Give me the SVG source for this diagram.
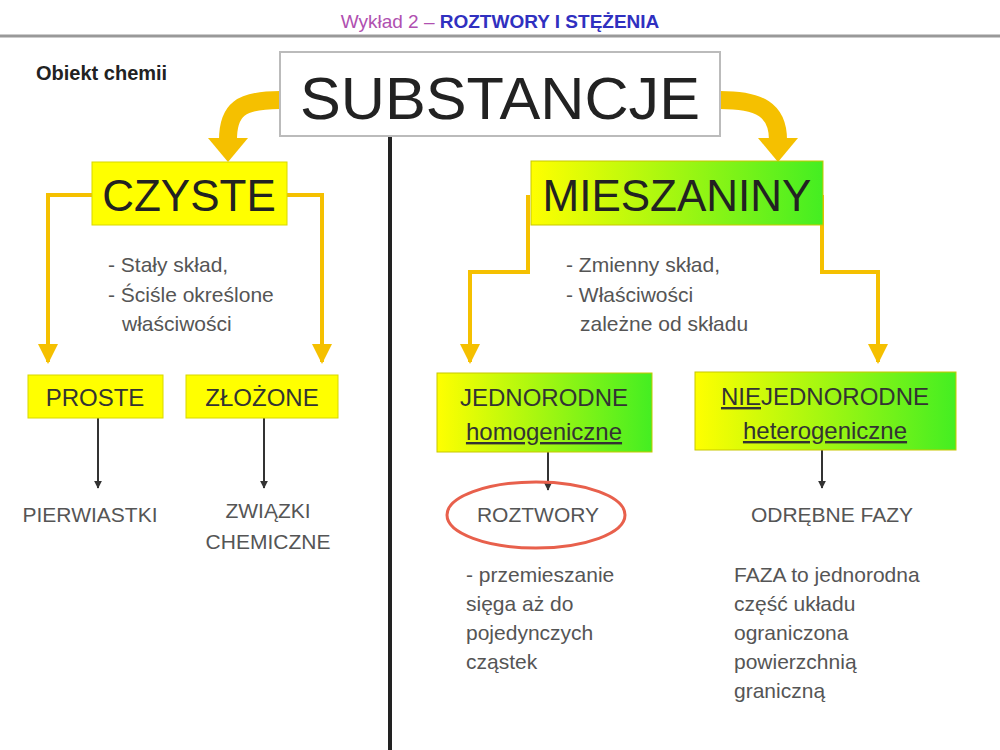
<svg xmlns="http://www.w3.org/2000/svg" width="1000" height="750" viewBox="0 0 1000 750">
<defs>
<linearGradient id="yg" x1="0" x2="1" y1="0" y2="0"><stop offset="0" stop-color="#ffff00"/><stop offset="1" stop-color="#44ee22"/></linearGradient>
<marker id="ya" viewBox="0 0 10 10" refX="9" refY="5" markerWidth="5" markerHeight="5" orient="auto"><path d="M0,0L10,5L0,10z" fill="#f5c000"/></marker>
<marker id="ka" viewBox="0 0 10 10" refX="9" refY="5" markerWidth="4" markerHeight="4" orient="auto"><path d="M0,0L10,5L0,10z" fill="#333"/></marker>
<style>
text{font-family:"Liberation Sans",Arial,sans-serif;fill:#222}
.y{fill:#ffff00;stroke:#d8d800;stroke-width:1}
.g{fill:url(#yg);stroke:#c8c800;stroke-width:1}
.yl{fill:none;stroke:#f5c000;stroke-width:4}
.k{stroke:#333;stroke-width:2;marker-end:url(#ka)}
.t{font-size:21px;fill:#555}
.b{font-size:24px;fill:#333}
</style>
</defs>
<rect width="1000" height="750" fill="#fff"/>
<text x="500" y="28" text-anchor="middle" font-size="19"><tspan fill="#b050b0">Wykład 2 – </tspan><tspan fill="#3030c0" font-weight="bold">ROZTWORY I STĘŻENIA</tspan></text>
<line x1="0" y1="36" x2="1000" y2="36" stroke="#999" stroke-width="3"/>
<text x="36" y="80" font-size="20" font-weight="bold" fill="#555">Obiekt chemii</text>
<g id="connectors">
<line x1="390" y1="130" x2="390" y2="750" stroke="#222" stroke-width="4"/>
<path d="M280,100 C240,100 228,110 228,140" fill="none" stroke="#f5c000" stroke-width="18"/>
<path d="M208,138 L248,138 L228,162z" fill="#f5c000"/>
<path d="M720,100 C760,100 778,110 778,140" fill="none" stroke="#f5c000" stroke-width="18"/>
<path d="M758,138 L798,138 L778,162z" fill="#f5c000"/>
<path class="yl" d="M92,195 H48 V362" marker-end="url(#ya)"/>
<path class="yl" d="M287,195 H322 V362" marker-end="url(#ya)"/>
<path class="yl" d="M528,195 V272 H470 V362" marker-end="url(#ya)"/>
<path class="yl" d="M822,195 V272 H878 V362" marker-end="url(#ya)"/>
<line class="k" x1="98" y1="418" x2="98" y2="488"/>
<line class="k" x1="264" y1="418" x2="264" y2="488"/>
<line class="k" x1="548" y1="452" x2="548" y2="490"/>
<line class="k" x1="822" y1="450" x2="822" y2="488"/>
</g>
<g id="substancje"><rect x="280" y="52" width="440" height="84" fill="#fff" stroke="#bbb" stroke-width="2"/><text x="500" y="119" text-anchor="middle" font-size="60" fill="#333" textLength="400" lengthAdjust="spacingAndGlyphs">SUBSTANCJE</text></g>
<g id="czyste"><rect class="y" x="92" y="162" width="195" height="63"/><text x="189" y="211" text-anchor="middle" font-size="44" fill="#333">CZYSTE</text></g>
<g id="mieszaniny"><rect class="g" x="531" y="161" width="292" height="64"/><text x="677" y="211" text-anchor="middle" font-size="44" fill="#333">MIESZANINY</text></g>
<g id="czyste-desc"><text class="t" x="108" y="272">- Stały skład,</text><text class="t" x="108" y="302">- Ściśle określone</text><text class="t" x="122" y="331">właściwości</text></g>
<g id="mies-desc"><text class="t" x="566" y="272">- Zmienny skład,</text><text class="t" x="566" y="302">- Właściwości</text><text class="t" x="580" y="331">zależne od składu</text></g>
<g id="proste"><rect class="y" x="28" y="375" width="135" height="43"/><text class="b" x="95" y="406" text-anchor="middle">PROSTE</text></g>
<g id="zlozone"><rect class="y" x="186" y="375" width="152" height="43"/><text class="b" x="262" y="406" text-anchor="middle">ZŁOŻONE</text></g>
<g id="jednorodne"><rect class="g" x="437" y="373" width="215" height="79"/><text class="b" x="544" y="406" text-anchor="middle">JEDNORODNE</text><text class="b" x="544" y="440" text-anchor="middle" text-decoration="underline">homogeniczne</text></g>
<g id="niejednorodne"><rect class="g" x="695" y="372" width="261" height="78"/><text class="b" x="825" y="405" text-anchor="middle"><tspan text-decoration="underline">NIE</tspan>JEDNORODNE</text><text class="b" x="825" y="439" text-anchor="middle" text-decoration="underline">heterogeniczne</text></g>
<g id="pierwiastki"><text class="t" x="90" y="522" text-anchor="middle">PIERWIASTKI</text></g>
<g id="zwiazki"><text class="t" x="268" y="518" text-anchor="middle">ZWIĄZKI</text><text class="t" x="268" y="549" text-anchor="middle">CHEMICZNE</text></g>
<g id="roztwory"><ellipse cx="536" cy="515" rx="89" ry="33" fill="none" stroke="#e8604c" stroke-width="3"/><text class="t" x="538" y="522" text-anchor="middle">ROZTWORY</text></g>
<g id="roztwory-desc"><text class="t" x="466" y="582">- przemieszanie</text><text class="t" x="466" y="611">sięga aż do</text><text class="t" x="466" y="640">pojedynczych</text><text class="t" x="466" y="669">cząstek</text></g>
<g id="fazy"><text class="t" x="832" y="522" text-anchor="middle">ODRĘBNE FAZY</text></g>
<g id="faza-desc"><text class="t" x="734" y="582">FAZA to jednorodna</text><text class="t" x="734" y="611">część układu</text><text class="t" x="734" y="640">ograniczona</text><text class="t" x="734" y="669">powierzchnią</text><text class="t" x="734" y="698">graniczną</text></g>
</svg>
